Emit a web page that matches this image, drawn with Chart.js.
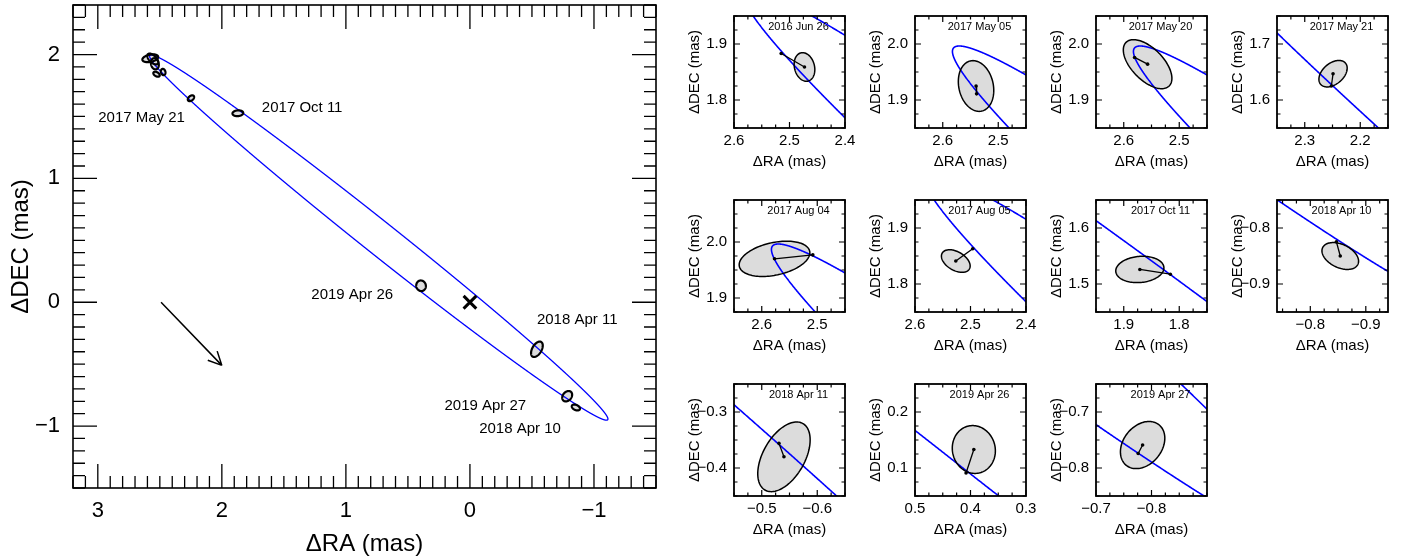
<!DOCTYPE html>
<html>
<head>
<meta charset="utf-8">
<title>Relative orbit</title>
<script src="https://cdn.jsdelivr.net/npm/chart.js@4.4.1/dist/chart.umd.min.js"></script>
<style>
  html, body { margin: 0; padding: 0; background: #fff; }
  body { position: relative; width: 1406px; height: 556px; overflow: hidden; }
  canvas { position: absolute; }
</style>
</head>
<body>
<canvas id="main" width="680" height="556" style="left:0;top:0"></canvas>
<script>
// apparent orbit (mas)
const orbitCenter = [0.735, 0.522];
const orbitAxes = [2.36, 0.133];       // semi-major, semi-minor
const orbitAngle = 38.55;              // deg, +RA toward +DEC
const primaryRA = 0, primaryDEC = 0;
const arrowRA = [2.49, 2.0];
const arrowDEC = [0.0, -0.51];

// epochs
const epochs = ['2016 Jun 26', '2017 May 05', '2017 May 20', '2017 May 21', '2017 Aug 04', '2017 Aug 05',
                '2017 Oct 11', '2018 Apr 10', '2018 Apr 11', '2019 Apr 26', '2019 Apr 27'];
const measRA  = [2.473, 2.540, 2.557, 2.249, 2.577, 2.5265, 1.871, -0.854, -0.540, 0.394, -0.784];
const measDEC = [1.859, 1.925, 1.964, 1.647, 1.970, 1.841, 1.526, -0.850, -0.380, 0.133, -0.759];
const modelRA  = [2.515, 2.539, 2.5805, 2.252, 2.508, 2.496, 1.816, -0.847, -0.531, 0.408, -0.776];
const modelDEC = [1.883, 1.911, 1.976, 1.625, 1.977, 1.863, 1.5175, -0.8246, -0.356, 0.091, -0.774];
// error ellipses: semi-major, semi-minor (mas), position angle (deg, N through E)
const errMajor = [0.026, 0.046, 0.055, 0.0293, 0.0648, 0.0283, 0.0435, 0.0351, 0.0685, 0.043, 0.0467];
const errMinor = [0.018, 0.031, 0.0284, 0.0187, 0.0291, 0.0166, 0.0233, 0.0208, 0.0375, 0.0385, 0.0345];
const errPA    = [15, 13, 45, 130, 102, 60, 95, 65, 150, 15, 140];

// main panel axes
const mainX = [3.2, -1.5], mainY = [-1.5, 2.4];
const mainXTicks = [3, 2, 1, 0, -1];
const mainYTicks = [-1, 0, 1, 2];
const mainLabelled = [6, 3, 9, 8, 10, 7];   // epochs named on the big panel

// zoom panel axes
const panelXMin = [2.40, 2.45, 2.45, 2.15, 2.45, 2.40, 1.75, -0.94, -0.65, 0.30, -0.90];
const panelXMax = [2.60, 2.65, 2.65, 2.35, 2.65, 2.60, 1.95, -0.74, -0.45, 0.50, -0.70];
const panelYMin = [1.75, 1.85, 1.85, 1.55, 1.875, 1.75, 1.45, -0.95, -0.45, 0.05, -0.85];
const panelYMax = [1.95, 2.05, 2.05, 1.75, 2.075, 1.95, 1.65, -0.75, -0.25, 0.25, -0.65];
const panelXTicks = [[2.6, 2.5, 2.4], [2.6, 2.5], [2.6, 2.5], [2.3, 2.2], [2.6, 2.5], [2.6, 2.5, 2.4],
                     [1.9, 1.8], [-0.8, -0.9], [-0.5, -0.6], [0.5, 0.4, 0.3], [-0.7, -0.8]];
const panelYTicks = [[1.9, 1.8], [2.0, 1.9], [2.0, 1.9], [1.7, 1.6], [2.0, 1.9], [1.9, 1.8],
                     [1.6, 1.5], [-0.8, -0.9], [-0.3, -0.4], [0.2, 0.1], [-0.7, -0.8]];

const FONT = '"Liberation Sans", Arial, Helvetica, sans-serif';
const fmt = (v, d) => (v < 0 ? '\u2212' : '') + Math.abs(v).toFixed(d);

// trace an ellipse given in data units through the chart scales
function tracePath(chart, cx, cy, A, B, ux, uy, n) {
  const { ctx, scales: { x, y } } = chart;
  ctx.beginPath();
  for (let k = 0; k <= n; k++) {
    const t = 2 * Math.PI * k / n;
    const c = Math.cos(t), s = Math.sin(t);
    const ra = cx + A * c * ux - B * s * uy;
    const de = cy + A * c * uy + B * s * ux;
    const px = x.getPixelForValue(ra), py = y.getPixelForValue(de);
    if (k) ctx.lineTo(px, py); else ctx.moveTo(px, py);
  }
  ctx.closePath();
}

const ellipsePlugin = {
  id: 'ellipses',
  beforeDatasetsDraw(chart, args, o) {
    const { ctx, chartArea: a } = chart;
    ctx.save();
    ctx.beginPath();
    ctx.rect(a.left, a.top, a.right - a.left, a.bottom - a.top);
    ctx.clip();
    const err = i => {
      const pa = errPA[i] * Math.PI / 180;
      tracePath(chart, measRA[i], measDEC[i], errMajor[i], errMinor[i], Math.sin(pa), Math.cos(pa), 120);
    };
    ctx.fillStyle = '#dcdcdc';
    o.items.forEach(i => { err(i); ctx.fill(); });
    const phi = orbitAngle * Math.PI / 180;
    tracePath(chart, orbitCenter[0], orbitCenter[1], orbitAxes[0], orbitAxes[1], Math.cos(phi), Math.sin(phi), 6000);
    ctx.strokeStyle = '#0000ff';
    ctx.lineWidth = o.orbitWidth;
    ctx.stroke();
    ctx.strokeStyle = '#000';
    ctx.lineWidth = o.errWidth;
    o.items.forEach(i => { err(i); ctx.stroke(); });
    ctx.restore();
  }
};

// box with inward ticks on all four sides
const framePlugin = {
  id: 'frame',
  afterDatasetsDraw(chart, args, o) {
    const { ctx, chartArea: a, scales: { x, y } } = chart;
    const side = (scale, step, draw) => {
      const majors = scale.ticks.map(t => t.value);
      const lo = Math.min(scale.min, scale.max), hi = Math.max(scale.min, scale.max);
      for (let k = Math.ceil(lo / step - 1e-6); k * step <= hi + 1e-9; k++) {
        const v = k * step;
        const major = majors.some(m => Math.abs(m - v) < step / 10);
        draw(scale.getPixelForValue(v), major ? o.major : o.minor);
      }
    };
    ctx.save();
    ctx.strokeStyle = '#000';
    ctx.lineWidth = o.tickWidth;
    ctx.beginPath();
    side(x, o.minorStep, (p, len) => {
      ctx.moveTo(p, a.bottom); ctx.lineTo(p, a.bottom - len);
      ctx.moveTo(p, a.top); ctx.lineTo(p, a.top + len);
    });
    side(y, o.minorStep, (p, len) => {
      ctx.moveTo(a.left, p); ctx.lineTo(a.left + len, p);
      ctx.moveTo(a.right, p); ctx.lineTo(a.right - len, p);
    });
    ctx.stroke();
    ctx.lineWidth = o.boxWidth;
    ctx.strokeRect(a.left, a.top, a.right - a.left, a.bottom - a.top);
    ctx.restore();
  }
};

// text and arrow notes
const notesPlugin = {
  id: 'notes',
  afterDraw(chart, args, o) {
    const { ctx, chartArea: a, scales: { x, y } } = chart;
    ctx.save();
    ctx.fillStyle = '#000';
    ctx.strokeStyle = '#000';
    ctx.textBaseline = 'middle';
    if (o.panel !== undefined) {
      ctx.font = '11px ' + FONT;
      ctx.textAlign = 'center';
      ctx.fillText(epochs[o.panel], (a.left + a.right) / 2 + 9, a.top + 11);
    }
    if (o.main) {
      // pixel offsets of each name from its ellipse
      const off = { 6: [24, -5, 'left'], 3: [-6, 20, 'right'], 9: [-28, 9, 'right'],
                    8: [0, -29, 'left'], 10: [-41, 10, 'right'], 7: [-15, 21, 'right'] };
      ctx.font = '15px ' + FONT;
      mainLabelled.forEach(i => {
        const [dx, dy, al] = off[i];
        ctx.textAlign = al;
        ctx.fillText(epochs[i], x.getPixelForValue(measRA[i]) + dx, y.getPixelForValue(measDEC[i]) + dy);
      });
      const x0 = x.getPixelForValue(arrowRA[0]), y0 = y.getPixelForValue(arrowDEC[0]);
      const x1 = x.getPixelForValue(arrowRA[1]), y1 = y.getPixelForValue(arrowDEC[1]);
      const ang = Math.atan2(y1 - y0, x1 - x0);
      ctx.lineWidth = 1.5;
      ctx.beginPath();
      ctx.moveTo(x0, y0); ctx.lineTo(x1, y1);
      [-0.45, 0.45].forEach(d => {
        ctx.moveTo(x1, y1);
        ctx.lineTo(x1 - 15 * Math.cos(ang + d), y1 - 15 * Math.sin(ang + d));
      });
      ctx.stroke();
    }
    ctx.restore();
  }
};

function axisOpts(axis, min, max, ticks, digits, f) {
  const isX = axis === 'x';
  return {
    type: 'linear', min, max, reverse: isX,
    grid: { display: false, drawTicks: false },
    border: { display: false },
    ticks: {
      color: '#000', autoSkip: false, maxRotation: 0,
      font: { family: FONT, size: f.tick },
      padding: isX ? f.xPad : f.yPad,
      callback: v => fmt(v, digits)
    },
    afterBuildTicks: s => { s.ticks = ticks.map(v => ({ value: v })); },
    afterFit: s => {
      if (isX) s.height = f.xHeight; else s.width = f.yWidth;
      s.paddingTop = s.paddingBottom = s.paddingLeft = s.paddingRight = 0;
    },
    title: {
      display: true, text: isX ? '\u0394RA (mas)' : '\u0394DEC (mas)', color: '#000',
      font: { family: FONT, size: f.title, lineHeight: 1 },
      padding: isX ? { top: 0, bottom: f.xTitlePad } : { top: f.yTitlePad, bottom: 0 }
    }
  };
}

const common = { responsive: false, animation: false, events: [] };

// big panel
const bigFonts = { tick: 22, title: 24, xPad: 10, yPad: 13, xHeight: 68, yWidth: 73, xTitlePad: 0, yTitlePad: 9 };
new Chart(document.getElementById('main'), {
  type: 'scatter',
  data: {
    datasets: [{
      data: [{ x: primaryRA, y: primaryDEC }],
      pointStyle: 'crossRot', pointRadius: 9, borderWidth: 3,
      borderColor: '#000', backgroundColor: '#000'
    }]
  },
  options: {
    ...common,
    layout: { padding: { top: 5, right: 24, bottom: 0, left: 0 }, autoPadding: false },
    plugins: {
      legend: { display: false }, tooltip: { enabled: false },
      ellipses: { items: epochs.map((e, i) => i), orbitWidth: 1.3, errWidth: 2.2 },
      frame: { minorStep: 0.1, major: 24, minor: 12, tickWidth: 1.3, boxWidth: 1.6 },
      notes: { main: true }
    },
    scales: {
      x: axisOpts('x', mainX[1], mainX[0], mainXTicks, 0, bigFonts),
      y: axisOpts('y', mainY[0], mainY[1], mainYTicks, 0, bigFonts)
    }
  },
  plugins: [ellipsePlugin, framePlugin, notesPlugin]
});

// zoomed panels
const smallFonts = { tick: 15, title: 15, xPad: 4, yPad: 7, xHeight: 50, yWidth: 47, xTitlePad: 8.5, yTitlePad: 0 };
epochs.forEach((name, i) => {
  const col = i % 4, row = Math.floor(i / 4);
  const cv = document.createElement('canvas');
  cv.width = 171; cv.height = 172;
  cv.style.left = (687 + 181 * col) + 'px';
  cv.style.top = (6 + 184 * row) + 'px';
  document.body.appendChild(cv);
  new Chart(cv, {
    type: 'scatter',
    data: {
      datasets: [{
        data: [{ x: measRA[i], y: measDEC[i] }, { x: modelRA[i], y: modelDEC[i] }],
        showLine: true, borderColor: '#000', borderWidth: 1.3,
        pointRadius: 1.8, pointBackgroundColor: '#000', pointBorderWidth: 0
      }]
    },
    options: {
      ...common,
      layout: { padding: { top: 10, right: 13, bottom: 0, left: 0 }, autoPadding: false },
      plugins: {
        legend: { display: false }, tooltip: { enabled: false },
        ellipses: { items: [i], orbitWidth: 1.6, errWidth: 1.5 },
        frame: { minorStep: 0.025, major: 6, minor: 3.5, tickWidth: 1.2, boxWidth: 1.8 },
        notes: { panel: i }
      },
      scales: {
        x: axisOpts('x', panelXMin[i], panelXMax[i], panelXTicks[i], 1, smallFonts),
        y: axisOpts('y', panelYMin[i], panelYMax[i], panelYTicks[i], 1, smallFonts)
      }
    },
    plugins: [ellipsePlugin, framePlugin, notesPlugin]
  });
});
</script>
</body>
</html>
